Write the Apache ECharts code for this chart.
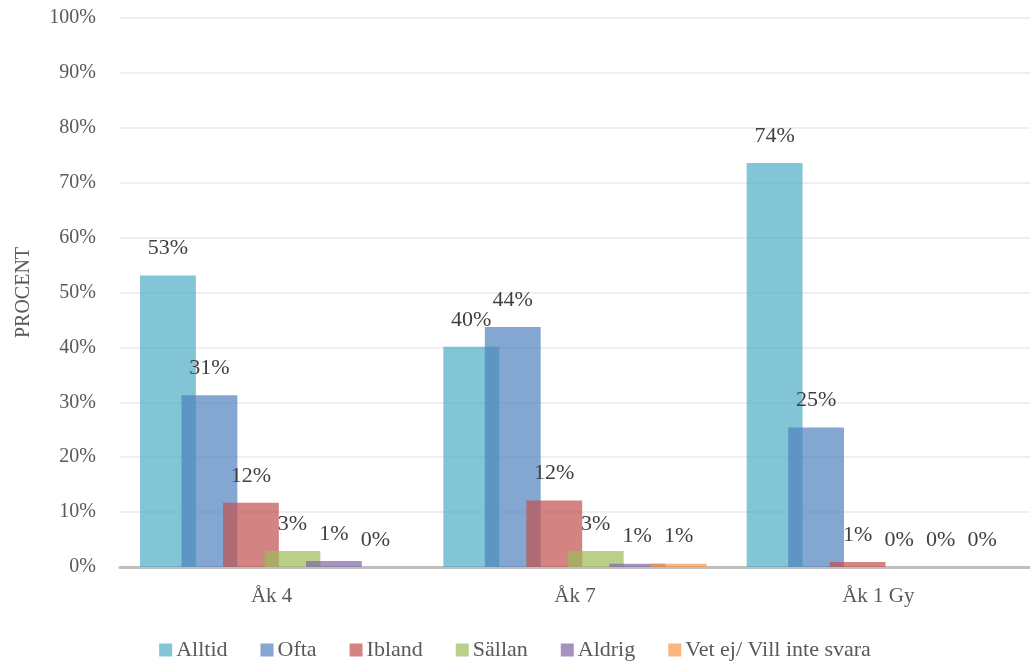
<!DOCTYPE html>
<html><head><meta charset="utf-8">
<script src="https://cdn.jsdelivr.net/npm/echarts@6/dist/echarts.min.js"></script>
<style>html,body{margin:0;padding:0;background:#fff}#c{width:1030px;height:661px}</style>
</head><body><div id="c"></div>
<script>
const categories = ['Åk 4', 'Åk 7', 'Åk 1 Gy'];
const seriesNames = ['Alltid', 'Ofta', 'Ibland', 'Sällan', 'Aldrig', 'Vet ej/ Vill inte svara'];
const alltid = [53.1, 40.1, 73.6];
const ofta = [31.3, 43.7, 25.4];
const ibland = [11.7, 12.1, 0.9];
const sallan = [2.9, 2.9, 0];
const aldrig = [1.1, 0.6, 0];
const vetEj = [0, 0.6, 0];
const yTicks = [0, 10, 20, 30, 40, 50, 60, 70, 80, 90, 100];

const values = [alltid, ofta, ibland, sallan, aldrig, vetEj];
const colors = ['rgba(75,172,198,0.7)', 'rgba(79,129,189,0.7)', 'rgba(192,80,77,0.7)',
                'rgba(155,187,89,0.7)', 'rgba(128,100,162,0.7)', 'rgba(247,150,70,0.7)'];
const FONT = '"Liberation Serif", "DejaVu Serif", serif';

const chart = echarts.init(document.getElementById('c'));
chart.setOption({
  animation: false,
  textStyle: { fontFamily: FONT },
  grid: { left: 120, right: 0, top: 18, bottom: 94 },
  legend: {
    bottom: 0, left: 'center', padding: 0, itemWidth: 13, itemHeight: 13, itemGap: 33,
    icon: 'rect',
    textStyle: { fontFamily: FONT, fontSize: 22, color: '#595959', padding: [0, 0, 0, -1] },
    data: seriesNames
  },
  xAxis: {
    type: 'category', data: categories,
    axisLine: { lineStyle: { color: '#bfbfbf', width: 3 } },
    axisTick: { show: false },
    axisLabel: { fontFamily: FONT, fontSize: 21, color: '#595959', margin: 19 }
  },
  yAxis: {
    type: 'value', min: yTicks[0], max: yTicks[yTicks.length - 1], interval: 10,
    name: 'PROCENT', nameLocation: 'middle', nameGap: 86,
    nameTextStyle: { fontFamily: FONT, fontSize: 20, color: '#595959' },
    axisLine: { show: false },
    axisTick: { show: false },
    splitLine: { lineStyle: { color: '#efefef', width: 2 } },
    axisLabel: { fontFamily: FONT, fontSize: 20, color: '#595959', margin: 24, formatter: v => v + '%' }
  },
  series: seriesNames.map((n, i) => ({
    name: n, type: 'bar', data: values[i],
    barGap: '-25.7%', barCategoryGap: '13.2%',
    itemStyle: { color: colors[i] },
    label: {
      show: true, position: 'top', distance: 16,
      fontFamily: FONT, fontSize: 22, color: '#404040',
      formatter: p => Math.round(p.value) + '%'
    }
  }))
});
</script></body></html>
